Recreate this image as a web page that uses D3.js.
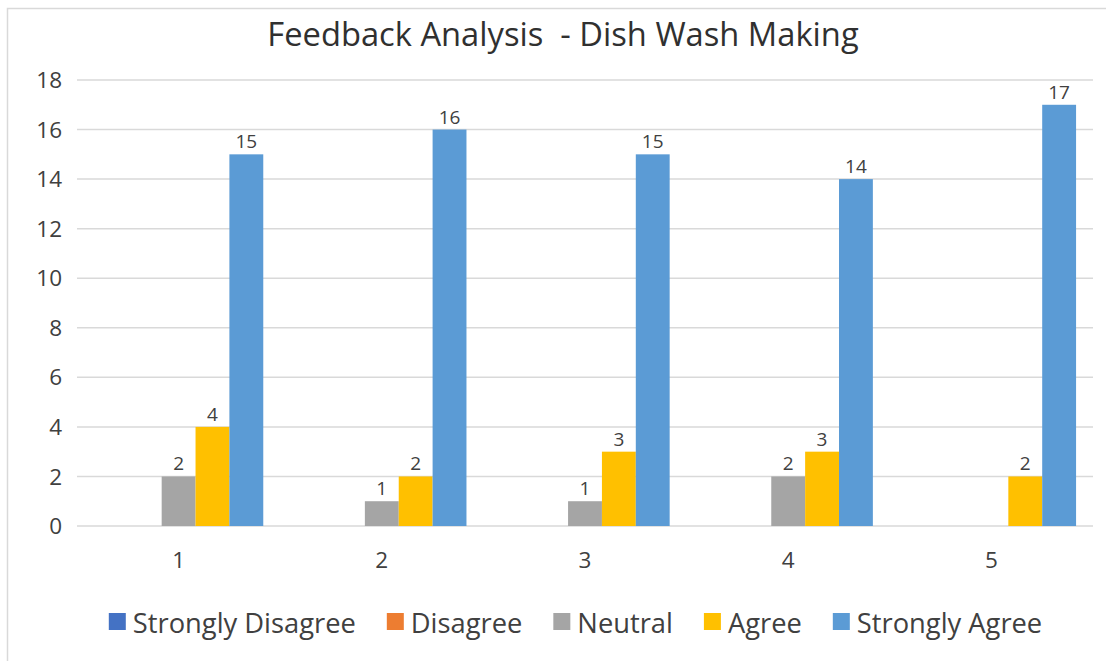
<!DOCTYPE html>
<html>
<head>
<meta charset="utf-8">
<script src="https://cdn.jsdelivr.net/npm/d3@7"></script>
<style>
  body { margin: 0; background: #fff; }
  svg { display: block; }
</style>
</head>
<body>
<div class="vis-feedback"></div>
<script>
// chart data
const categories = ['1', '2', '3', '4', '5'];
const seriesNames = ['Strongly Disagree', 'Disagree', 'Neutral', 'Agree', 'Strongly Agree'];
const stronglyDisagree = [0, 0, 0, 0, 0];
const disagree = [0, 0, 0, 0, 0];
const neutral = [2, 1, 1, 2, 0];
const agree = [4, 2, 3, 3, 2];
const stronglyAgree = [15, 16, 15, 14, 17];
const yTicks = [0, 2, 4, 6, 8, 10, 12, 14, 16, 18];
const seriesColors = ['#4472C4', '#ED7D31', '#A5A5A5', '#FFC000', '#5B9BD5'];

const draw = () => {
    const W = 1106, H = 661;
    const font = "'Open Sans', 'DejaVu Sans', sans-serif";
    const margin = { top: 80, right: 13, bottom: 135, left: 77 };
    const width = W - margin.left - margin.right;
    const height = 526 - margin.top;

    const values = [stronglyDisagree, disagree, neutral, agree, stronglyAgree];
    const data = categories.map((c, i) => ({
        cat: c,
        vals: seriesNames.map((s, j) => ({ key: s, idx: j, value: values[j][i] }))
    }));

    const root = d3.select('.vis-feedback')
        .append('svg')
        .attr('width', W)
        .attr('height', H);

    // chart area border (only top/left visible in the picture)
    root.append('rect')
        .attr('x', 7.5).attr('y', 8.5)
        .attr('width', W + 20).attr('height', H + 20)
        .attr('fill', 'none')
        .attr('stroke', '#d9d9d9')
        .attr('stroke-width', 1.5);

    // title
    root.append('text')
        .attr('x', 563)
        .attr('y', 46)
        .attr('text-anchor', 'middle')
        .style('white-space', 'pre')
        .attr('font-family', font)
        .attr('font-size', '32.7px')
        .attr('fill', '#303030')
        .text('Feedback Analysis  - Dish Wash Making');

    const svg = root.append('g')
        .attr('transform', 'translate(' + margin.left + ',' + margin.top + ')');

    const y = d3.scaleLinear().domain([0, 18]).range([height, 0]);
    const x0 = d3.scaleBand().domain(categories).range([0, width]).padding(0);
    const x1 = d3.scaleBand().domain(seriesNames).range([0, x0.bandwidth()])
        .paddingInner(0).paddingOuter(0.5);

    // gridlines
    svg.selectAll('.grid')
        .data(yTicks)
        .enter()
        .append('line')
        .attr('x1', 0).attr('x2', width)
        .attr('y1', d => y(d)).attr('y2', d => y(d))
        .attr('stroke', '#d9d9d9')
        .attr('stroke-width', 1.5);

    // y tick labels
    svg.selectAll('.ytick')
        .data(yTicks)
        .enter()
        .append('text')
        .attr('x', -15)
        .attr('y', d => y(d))
        .attr('dy', '0.36em')
        .attr('text-anchor', 'end')
        .attr('font-family', font)
        .attr('font-size', '22.5px')
        .attr('fill', '#404040')
        .text(d => d);

    // x labels
    svg.selectAll('.xtick')
        .data(categories)
        .enter()
        .append('text')
        .attr('x', d => x0(d) + x0.bandwidth() / 2)
        .attr('y', height + 42)
        .attr('text-anchor', 'middle')
        .attr('font-family', font)
        .attr('font-size', '22.5px')
        .attr('fill', '#404040')
        .text(d => d);

    // bars
    const group = svg.selectAll('.group')
        .data(data)
        .enter()
        .append('g')
        .attr('transform', d => 'translate(' + x0(d.cat) + ',0)');

    group.selectAll('rect')
        .data(d => d.vals.filter(v => v.value > 0))
        .enter()
        .append('rect')
        .attr('x', d => x1(d.key))
        .attr('width', x1.bandwidth())
        .attr('y', d => y(d.value))
        .attr('height', d => height - y(d.value))
        .attr('fill', d => seriesColors[d.idx]);

    group.selectAll('.label')
        .data(d => d.vals.filter(v => v.value > 0))
        .enter()
        .append('text')
        .attr('x', d => x1(d.key) + x1.bandwidth() / 2)
        .attr('y', d => y(d.value) - 6)
        .attr('text-anchor', 'middle')
        .attr('font-family', font)
        .attr('font-size', '19px')
        .attr('fill', '#404040')
        .text(d => d.value);

    // legend
    const legend = root.append('g').attr('class', 'legend');
    const items = legend.selectAll('.item')
        .data(seriesNames)
        .enter()
        .append('g');
    items.append('rect')
        .attr('width', 17).attr('height', 17)
        .attr('y', 613)
        .attr('fill', (d, i) => seriesColors[i]);
    items.append('text')
        .attr('x', 24)
        .attr('y', 633)
        .attr('font-family', font)
        .attr('font-size', '27.3px')
        .attr('fill', '#404040')
        .text(d => d);
    let pos = 0;
    const offsets = [];
    items.each(function () {
        offsets.push(pos);
        pos += 24 + d3.select(this).select('text').node().getComputedTextLength() + 31;
    });
    const total = pos - 31;
    const start = 575.5 - total / 2;
    items.attr('transform', (d, i) => 'translate(' + (start + offsets[i]) + ',0)');

    return svg;
};

draw();
</script>
</body>
</html>
